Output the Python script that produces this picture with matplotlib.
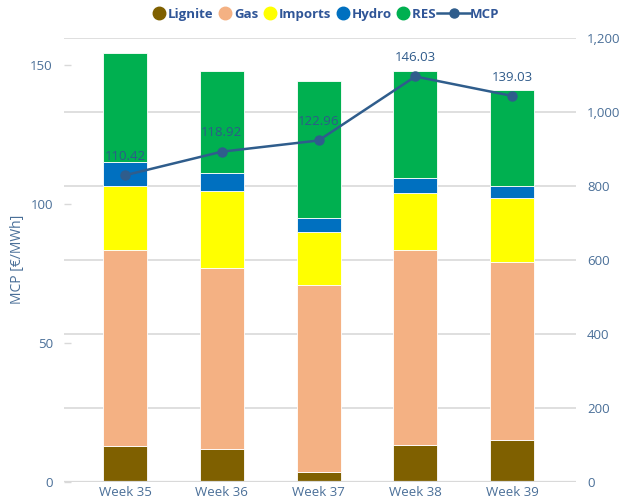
import numpy as np
import matplotlib.pyplot as plt
from matplotlib.lines import Line2D
from matplotlib.legend_handler import HandlerLine2D
from matplotlib.ticker import FuncFormatter

plt.rcParams['font.family'] = ['Open Sans', 'DejaVu Sans']

# data
weeks = ['Week 35', 'Week 36', 'Week 37', 'Week 38', 'Week 39']
lignite = [95, 87, 26, 98, 112]
gas = [530, 490, 506, 527, 482]
imports = [175, 208, 142, 155, 173]
hydro = [65, 50, 39, 41, 33]
res = [293, 275, 370, 289, 260]
mcp = [110.42, 118.92, 122.96, 146.03, 139.03]

series = [('Lignite', lignite, '#7f6000'),
          ('Gas', gas, '#f4b183'),
          ('Imports', imports, '#ffff00'),
          ('Hydro', hydro, '#0070c0'),
          ('RES', res, '#00b050')]

txt_col = '#4a6f98'
line_col = '#2f5d8c'
grid_col = '#d9d9d9'


class WideLine(HandlerLine2D):
    # stretch the MCP handle to the left so it looks like a line with a dot
    def create_artists(self, legend, orig_handle, xdescent, ydescent, width, height, fontsize, trans):
        ext = width * 0.9
        return super().create_artists(legend, orig_handle, xdescent + ext, ydescent,
                                      width + ext, height, fontsize, trans)


fig = plt.figure(figsize=(6.25, 5.04), dpi=100)
ax1 = fig.add_axes([0.1024, 0.0446, 0.8192, 0.8805])
ax2 = ax1.twinx()

x = np.arange(len(weeks))
bottom = np.zeros(len(weeks))
for name, vals, col in series:
    ax2.bar(x, vals, width=0.455, bottom=bottom, color=col,
            edgecolor='white', linewidth=0.6, label=name, zorder=2)
    bottom += np.array(vals)

ax2.set_ylim(0, 1200)
ax2.set_yticks(range(0, 1201, 200))
ax2.yaxis.set_major_formatter(FuncFormatter(lambda v, p: f'{int(v):,}'))
ax2.grid(axis='y', color=grid_col, linewidth=1.2, zorder=0)
ax2.set_axisbelow(True)
ax2.tick_params(axis='y', length=0, pad=8, labelsize=9.5, labelcolor=txt_col)

ax1.set_zorder(ax2.get_zorder() + 1)
ax1.patch.set_visible(False)
ax1.plot(x, mcp, color=line_col, linewidth=1.8, marker='o', markersize=6.5, zorder=5)
for xi, v in zip(x, mcp):
    ax1.annotate(f'{v:.2f}', (xi, v), xytext=(0, 13.5), textcoords='offset points',
                 ha='center', va='center', fontsize=9.5, color='#2e5a8a', zorder=6)

ax1.set_ylim(0, 160)
ax1.set_yticks([0, 50, 100, 150])
ax1.tick_params(axis='y', direction='in', length=5, width=1, color=grid_col,
                pad=8, labelsize=9.5, labelcolor=txt_col)
ax1.set_ylabel('MCP [€/MWh]', color=txt_col, fontsize=10, labelpad=4)
ax1.set_xlim(-0.63, 4.66)
ax1.set_xticks(x)
ax1.set_xticklabels(weeks)
ax1.tick_params(axis='x', length=0, pad=3, labelsize=9.5, labelcolor=txt_col)

for a in (ax1, ax2):
    for s in a.spines.values():
        s.set_visible(False)
ax1.axhline(0, color=grid_col, linewidth=1.6, zorder=1)

handles = [Line2D([], [], marker='o', linestyle='none', markersize=9,
                  markerfacecolor=c, markeredgecolor=c) for _, _, c in series]
mcp_handle = Line2D([], [], color=line_col, linewidth=1.8, marker='o', markersize=6.5)
handles.append(mcp_handle)
labels = [s[0] for s in series[:-1]] + ['RES\u00a0\u00a0\u00a0\u00a0', 'MCP']
leg = fig.legend(handles, labels, loc='center', bbox_to_anchor=(0.52, 0.972), ncol=6,
                 frameon=False, handletextpad=0.0, columnspacing=0.25, handlelength=1.3,
                 handler_map={mcp_handle: WideLine()},
                 prop={'weight': 'bold', 'size': 9.5})
for t in leg.get_texts():
    t.set_color('#2f5597')

fig.savefig('out.png', dpi=100)
